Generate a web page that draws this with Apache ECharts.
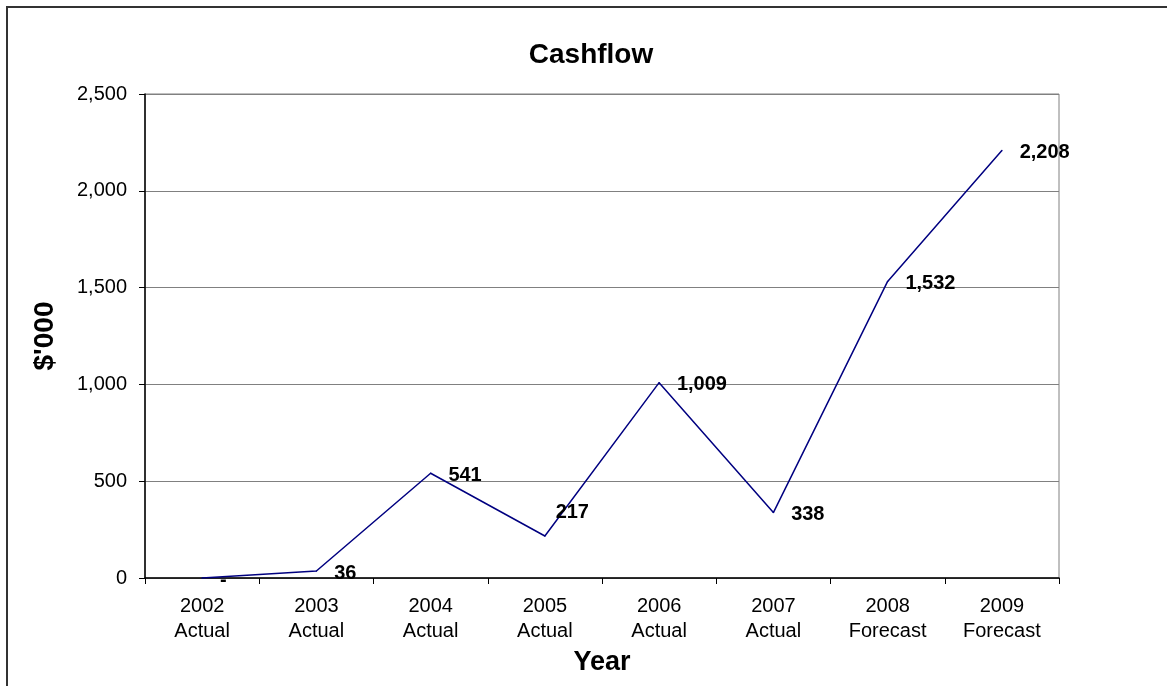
<!DOCTYPE html>
<html>
<head>
<meta charset="utf-8">
<script src="https://cdn.jsdelivr.net/npm/echarts@6/dist/echarts.min.js"></script>
<style>
html,body{margin:0;padding:0;background:#fff;}
#c{width:1167px;height:686px;}
</style>
</head>
<body>
<div id="c"></div>
<script>
var categories = ['2002\nActual','2003\nActual','2004\nActual','2005\nActual','2006\nActual','2007\nActual','2008\nForecast','2009\nForecast'];
var cashflow = [0, 36, 541, 217, 1009, 338, 1532, 2208];
var yTicks = { min: 0, max: 2500, interval: 500 };

var FONT = '"Liberation Sans", Arial, sans-serif';
var chart = echarts.init(document.getElementById('c'));

var seriesData = cashflow.map(function(v, i){
  var d = { value: v };
  if (i === 3) { d.label = { offset: [-7, -24] }; }
  return d;
});

chart.setOption({
  animation: false,
  backgroundColor: '#ffffff',
  textStyle: { fontFamily: FONT, color: '#000' },
  graphic: [{
    type: 'rect',
    shape: { x: 7, y: 7, width: 1300, height: 800 },
    style: { fill: 'none', stroke: '#333', lineWidth: 2 },
    silent: true
  }],
  title: {
    text: 'Cashflow',
    left: 586, textAlign: 'center',
    top: 36,
    textStyle: { fontFamily: FONT, fontSize: 28, fontWeight: 'bold', color: '#000' }
  },
  grid: {
    left: 145, right: 108, top: 94, bottom: 108,
    show: true, borderColor: '#808080', borderWidth: 1, backgroundColor: 'transparent'
  },
  xAxis: {
    type: 'category',
    data: categories,
    boundaryGap: true,
    name: 'Year',
    nameLocation: 'middle',
    nameGap: 68,
    nameTextStyle: { fontFamily: FONT, fontSize: 27, fontWeight: 'bold', color: '#000' },
    axisLine: { lineStyle: { color: '#000', width: 1.5 } },
    axisTick: { show: true, length: 6, alignWithLabel: false, lineStyle: { color: '#000' } },
    axisLabel: { fontFamily: FONT, fontSize: 20, color: '#000', margin: 16, lineHeight: 25, interval: 0 },
    splitLine: { show: false }
  },
  yAxis: {
    type: 'value',
    min: yTicks.min, max: yTicks.max, interval: yTicks.interval,
    name: "$'000",
    nameLocation: 'middle',
    nameGap: 86,
    nameTextStyle: { fontFamily: FONT, fontSize: 28, fontWeight: 'bold', color: '#000' },
    axisLine: { show: true, lineStyle: { color: '#000', width: 1.5 } },
    axisTick: { show: true, length: 6, lineStyle: { color: '#000' } },
    axisLabel: {
      fontFamily: FONT, fontSize: 20, color: '#000', margin: 18,
      formatter: function(v){ return v.toLocaleString('en-US'); }
    },
    splitLine: { show: true, lineStyle: { color: '#808080', width: 1 } }
  },
  series: [{
    type: 'line',
    data: seriesData,
    symbol: 'circle',
    symbolSize: 1.5,
    showSymbol: true,
    showAllSymbol: true,
    lineStyle: { color: '#000080', width: 1.5 },
    itemStyle: { color: '#000080' },
    label: {
      show: true,
      position: 'right',
      distance: 17,
      offset: [0, 2],
      fontFamily: FONT, fontSize: 20, fontWeight: 'bold', color: '#000',
      formatter: function(p){ return p.value === 0 ? '-' : p.value.toLocaleString('en-US'); }
    }
  }]
});
</script>
</body>
</html>
